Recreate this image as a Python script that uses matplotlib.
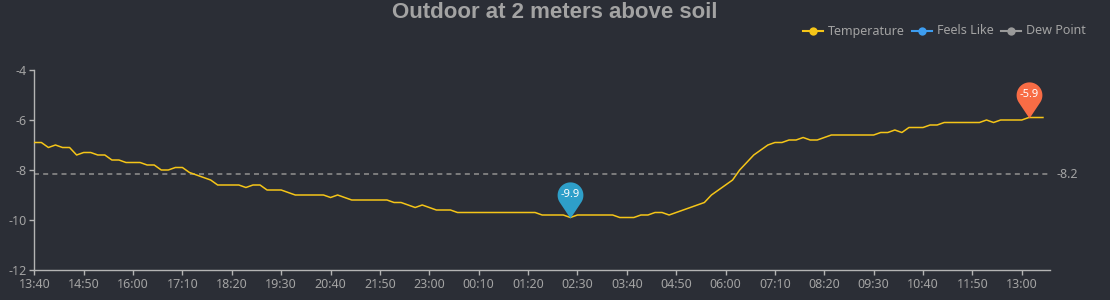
import numpy as np
import matplotlib
matplotlib.use("Agg")
import matplotlib.pyplot as plt
from matplotlib.path import Path
from matplotlib.lines import Line2D

plt.rcParams['font.family'] = ['Noto Sans', 'DejaVu Sans']

# one reading every 10 minutes, 13:40 -> 13:30 next day
temperature = [
    -6.9, -6.9, -7.1, -7.0, -7.1, -7.1, -7.4, -7.3, -7.3, -7.4,
    -7.4, -7.6, -7.6, -7.7, -7.7, -7.7, -7.8, -7.8, -8.0, -8.0,
    -7.9, -7.9, -8.1, -8.2, -8.3, -8.4, -8.6, -8.6, -8.6, -8.6,
    -8.7, -8.6, -8.6, -8.8, -8.8, -8.8, -8.9, -9.0, -9.0, -9.0,
    -9.0, -9.0, -9.1, -9.0, -9.1, -9.2, -9.2, -9.2, -9.2, -9.2,
    -9.2, -9.3, -9.3, -9.4, -9.5, -9.4, -9.5, -9.6, -9.6, -9.6,
    -9.7, -9.7, -9.7, -9.7, -9.7, -9.7, -9.7, -9.7, -9.7, -9.7,
    -9.7, -9.7, -9.8, -9.8, -9.8, -9.8, -9.9, -9.8, -9.8, -9.8,
    -9.8, -9.8, -9.8, -9.9, -9.9, -9.9, -9.8, -9.8, -9.7, -9.7,
    -9.8, -9.7, -9.6, -9.5, -9.4, -9.3, -9.0, -8.8, -8.6, -8.4,
    -8.0, -7.7, -7.4, -7.2, -7.0, -6.9, -6.9, -6.8, -6.8, -6.7,
    -6.8, -6.8, -6.7, -6.6, -6.6, -6.6, -6.6, -6.6, -6.6, -6.6,
    -6.5, -6.5, -6.4, -6.5, -6.3, -6.3, -6.3, -6.2, -6.2, -6.1,
    -6.1, -6.1, -6.1, -6.1, -6.1, -6.0, -6.1, -6.0, -6.0, -6.0,
    -6.0, -5.9, -5.9, -5.9,
]
x_labels = ['13:40', '14:50', '16:00', '17:10', '18:20', '19:30', '20:40',
            '21:50', '23:00', '00:10', '01:20', '02:30', '03:40', '04:50',
            '06:00', '07:10', '08:20', '09:30', '10:40', '11:50', '13:00']
label_step = 7          # a label every 7 readings (70 min)
n_slots = 144           # 24h of 10 min slots on the axis
y_ticks = [-12, -10, -8, -6, -4]
series_names = ['Temperature', 'Feels Like', 'Dew Point']
series_colors = ['#f5c518', '#3d9df0', '#9a9a9a']

bg = '#2b2e36'
txt = '#a3a3a3'
axis_col = '#b4b4b4'

temp = np.array(temperature)
xs = np.arange(len(temp))

fig = plt.figure(figsize=(11.1, 3.0), dpi=100, facecolor=bg)
ax = fig.add_axes([34.3 / 1110, 30 / 300, (1050 - 34.3) / 1110, 200 / 300])
ax.set_facecolor(bg)

ax.plot(xs, temp, color=series_colors[0], lw=1.1, zorder=3)

# average line
avg = temp.mean()
ax.axhline(avg, color='#8a8a8a', lw=1.2, linestyle=(0, (3, 2.5)), zorder=2)
ax.annotate(f'{avg:.1f}', xy=(1, avg), xycoords=('axes fraction', 'data'),
            xytext=(5, 0), textcoords='offset points', va='center', ha='left',
            color=txt, fontsize=9, annotation_clip=False)

# pin markers for min / max
ang = np.radians(np.linspace(-33.75, 213.75, 60))
verts = [(0, 0)] + [(np.cos(a), 1.8 + np.sin(a)) for a in ang] + [(0, 0)]
codes = [Path.MOVETO] + [Path.LINETO] * (len(verts) - 2) + [Path.CLOSEPOLY]
pin = Path(verts, codes)
pin_ms = 52
pin_off = 1.8 / 2.8 * 0.5 * pin_ms

i_min = int(np.argmin(temp))
i_max = int(np.argmax(temp))
for idx, col in [(i_min, '#2e9fc9'), (i_max, '#f86c45')]:
    ax.plot(xs[idx], temp[idx], marker=pin, markersize=pin_ms, color=col,
            markeredgewidth=0, zorder=5, clip_on=False)
    ax.annotate(f'{temp[idx]:.1f}', xy=(xs[idx], temp[idx]), xytext=(0, pin_off),
                textcoords='offset points', ha='center', va='center',
                color='white', fontsize=8, zorder=6, annotation_clip=False)

ax.set_xlim(0, n_slots)
ax.set_ylim(y_ticks[0], y_ticks[-1])
ax.set_yticks(y_ticks)
ax.set_yticklabels([str(t) for t in y_ticks])
ax.set_xticks(np.arange(len(x_labels)) * label_step)
ax.set_xticklabels(x_labels)

for side in ['top', 'right']:
    ax.spines[side].set_visible(False)
for side in ['left', 'bottom']:
    ax.spines[side].set_color(axis_col)
    ax.spines[side].set_linewidth(1.0)
ax.tick_params(axis='both', colors=axis_col, labelcolor=txt, labelsize=9,
               length=3.6, width=1.0, direction='out', pad=2)

fig.text(0.5, 1 - 13 / 300, 'Outdoor at 2 meters above soil', ha='center',
         va='center', color=txt, fontsize=16, fontweight='bold',
         family=['Liberation Sans', 'DejaVu Sans'])

# legend drawn by hand in figure pixels
leg_y = 1 - 31 / 300
leg_x = [803, 912, 1001]
for name, col, lx in zip(series_names, series_colors, leg_x):
    fig.add_artist(Line2D([lx / 1110, (lx + 20) / 1110], [leg_y, leg_y],
                          color=col, lw=1.5, transform=fig.transFigure))
    fig.add_artist(Line2D([(lx + 10) / 1110], [leg_y], marker='o',
                          markersize=6, color=col, markeredgewidth=0,
                          transform=fig.transFigure))
    fig.text((lx + 25) / 1110, leg_y, name, ha='left', va='center',
             color=txt, fontsize=9)

fig.savefig('out.png', dpi=100, facecolor=bg)
